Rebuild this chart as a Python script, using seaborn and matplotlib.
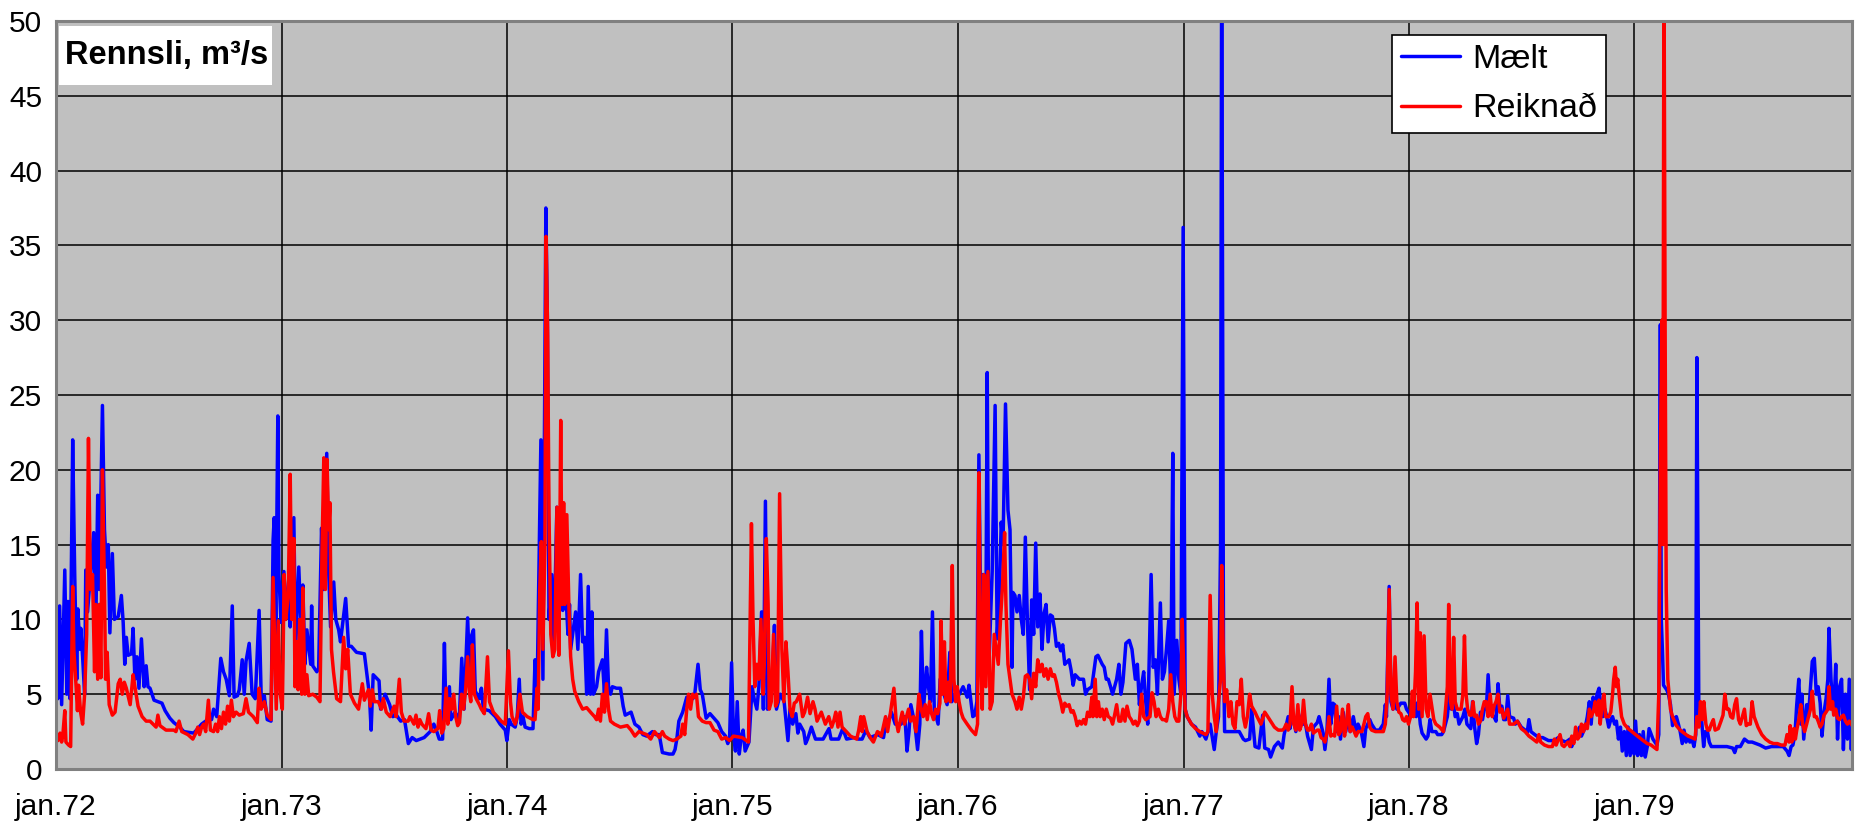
import numpy as np
import pandas as pd
import matplotlib
matplotlib.use("Agg")
import matplotlib.pyplot as plt
import matplotlib.dates as mdates
from matplotlib.patches import Rectangle
from matplotlib.ticker import MultipleLocator, FuncFormatter
import seaborn as sns

# rennsli lesið af mynd: (ár frá jan.72, m3/s)
maelt_1972 = [(0.000, 9.9), (0.008, 4.7), (0.016, 10.9), (0.025, 4.3), (0.039, 13.3), (0.048, 5.0), (0.053, 11.2),
              (0.062, 4.7), (0.074, 22.0), (0.083, 13.0), (0.092, 6.0), (0.097, 10.7), (0.106, 8.0), (0.110, 9.4),
              (0.118, 7.5), (0.127, 5.0), (0.132, 13.3), (0.140, 10.5), (0.167, 15.8), (0.176, 9.0), (0.185, 18.3),
              (0.192, 12.0), (0.206, 24.3), (0.215, 16.0), (0.224, 13.5), (0.232, 15.0), (0.239, 9.1), (0.250, 14.4),
              (0.259, 10.0), (0.276, 10.2), (0.290, 11.6), (0.298, 9.8), (0.305, 7.0), (0.312, 8.8), (0.320, 7.6),
              (0.335, 7.7), (0.342, 9.4), (0.350, 6.0), (0.359, 7.5), (0.368, 5.4), (0.379, 8.7), (0.391, 5.5),
              (0.400, 6.9), (0.408, 5.5), (0.417, 5.4), (0.435, 4.6), (0.470, 4.4), (0.484, 3.9), (0.505, 3.4),
              (0.523, 3.1), (0.549, 2.8), (0.567, 2.5), (0.611, 2.4), (0.629, 2.7), (0.646, 3.0), (0.673, 3.3),
              (0.690, 3.3), (0.699, 4.0), (0.713, 3.5), (0.731, 7.4), (0.743, 6.5), (0.755, 6.0), (0.769, 4.9),
              (0.782, 10.9), (0.790, 4.8), (0.805, 4.9), (0.813, 5.3), (0.826, 7.3), (0.835, 5.0), (0.843, 7.2),
              (0.857, 8.4), (0.870, 5.0), (0.884, 4.7), (0.901, 10.6), (0.910, 5.0), (0.919, 4.2), (0.924, 4.9),
              (0.937, 3.3), (0.954, 3.2), (0.963, 15.3), (0.968, 16.8), (0.975, 9.0), (0.984, 23.6), (0.989, 13.0),
              (0.998, 9.8)]
maelt_1973 = [(1.011, 13.2), (1.019, 10.0), (1.033, 12.8), (1.039, 9.5), (1.055, 16.8), (1.063, 8.0), (1.077, 13.5),
              (1.086, 10.0), (1.095, 12.3), (1.104, 7.0), (1.113, 9.3), (1.130, 7.0), (1.134, 10.9), (1.139, 6.9),
              (1.157, 6.5), (1.165, 6.7), (1.178, 16.1), (1.187, 12.0), (1.201, 21.1), (1.210, 13.0), (1.218, 9.5),
              (1.232, 12.5), (1.241, 10.0), (1.254, 9.3), (1.262, 8.5), (1.285, 11.4), (1.298, 8.2), (1.310, 8.2),
              (1.333, 7.8), (1.368, 7.7), (1.390, 5.0), (1.398, 2.6), (1.407, 6.3), (1.433, 5.9), (1.440, 4.0),
              (1.460, 5.0), (1.480, 4.3), (1.494, 3.5), (1.510, 3.6), (1.529, 3.2), (1.546, 3.3), (1.563, 1.7),
              (1.580, 2.1), (1.598, 1.9), (1.633, 2.1), (1.660, 2.5), (1.676, 3.0), (1.685, 2.7), (1.700, 2.0),
              (1.715, 2.0), (1.723, 8.4), (1.730, 3.5), (1.745, 5.5), (1.752, 3.3), (1.770, 3.8), (1.789, 3.3),
              (1.800, 7.4), (1.810, 4.0), (1.826, 10.1), (1.836, 6.0), (1.843, 8.9), (1.852, 9.3), (1.860, 5.2),
              (1.878, 4.7), (1.887, 5.4), (1.896, 4.0), (1.922, 3.9), (1.949, 3.5), (1.970, 3.0), (1.993, 2.6),
              (2.000, 1.9)]
maelt_1974 = [(2.011, 3.3), (2.019, 3.0), (2.037, 2.8), (2.046, 3.5), (2.055, 6.0), (2.063, 3.0), (2.072, 3.5),
              (2.081, 2.8), (2.099, 2.7), (2.116, 2.7), (2.125, 7.3), (2.134, 5.0), (2.151, 22.0), (2.160, 6.0),
              (2.173, 37.5), (2.180, 29.8), (2.187, 10.0), (2.199, 13.0), (2.208, 8.0), (2.222, 17.5), (2.231, 9.0),
              (2.238, 16.0), (2.248, 10.6), (2.257, 13.2), (2.271, 9.0), (2.278, 11.0), (2.283, 8.0), (2.296, 9.5),
              (2.305, 10.5), (2.315, 8.0), (2.327, 13.0), (2.336, 8.5), (2.345, 8.8), (2.354, 5.0), (2.361, 12.2),
              (2.371, 5.0), (2.377, 10.5), (2.384, 5.0), (2.398, 5.5), (2.407, 6.5), (2.424, 7.3), (2.433, 5.0),
              (2.442, 9.3), (2.451, 5.5), (2.460, 5.0), (2.468, 5.5), (2.486, 5.4), (2.504, 5.4), (2.516, 4.2),
              (2.525, 3.6), (2.551, 3.8), (2.568, 3.0), (2.586, 2.8), (2.603, 2.3), (2.620, 2.2), (2.646, 2.5),
              (2.660, 2.3), (2.676, 2.3), (2.690, 1.1), (2.720, 1.0), (2.737, 1.0), (2.746, 1.3), (2.754, 2.0),
              (2.763, 3.2), (2.780, 3.8), (2.798, 4.8), (2.815, 4.6), (2.832, 4.8), (2.848, 7.0), (2.858, 5.3),
              (2.867, 5.0), (2.884, 3.4), (2.901, 3.7), (2.936, 3.1), (2.953, 2.5), (2.970, 2.2), (2.980, 1.7),
              (2.988, 2.0), (2.997, 7.1)]
maelt_1975 = [(3.005, 2.5), (3.014, 1.2), (3.022, 4.5), (3.031, 1.0), (3.040, 2.2), (3.048, 2.6), (3.057, 1.2),
              (3.074, 1.8), (3.088, 5.5), (3.097, 4.7), (3.109, 4.0), (3.118, 5.5), (3.130, 10.5), (3.138, 4.0),
              (3.147, 17.9), (3.156, 4.0), (3.166, 5.0), (3.178, 6.4), (3.187, 9.6), (3.196, 4.0), (3.213, 5.0),
              (3.230, 4.5), (3.247, 1.9), (3.256, 4.0), (3.268, 3.0), (3.282, 3.7), (3.291, 2.4), (3.299, 3.0),
              (3.317, 2.5), (3.325, 1.7), (3.334, 2.0), (3.351, 2.8), (3.369, 2.0), (3.403, 2.0), (3.429, 2.7),
              (3.438, 2.0), (3.472, 2.0), (3.490, 2.7), (3.507, 2.0), (3.542, 2.1), (3.559, 2.0), (3.576, 2.0),
              (3.593, 2.6), (3.611, 2.1), (3.645, 2.3), (3.671, 2.1), (3.680, 3.0), (3.697, 3.4), (3.706, 3.8),
              (3.723, 3.0), (3.749, 3.0), (3.766, 3.5), (3.775, 1.2), (3.784, 2.5), (3.792, 4.3), (3.810, 3.0),
              (3.822, 1.3), (3.832, 3.0), (3.839, 9.2), (3.848, 4.0), (3.862, 6.8), (3.870, 5.5), (3.879, 4.5),
              (3.888, 10.5), (3.896, 4.0), (3.913, 3.0), (3.922, 6.0), (3.939, 5.0), (3.953, 4.3), (3.965, 7.8),
              (3.974, 4.5), (3.988, 5.0), (3.999, 4.8)]
maelt_1976 = [(4.007, 5.0), (4.024, 5.5), (4.042, 4.8), (4.050, 5.6), (4.059, 4.5), (4.067, 3.5), (4.076, 3.6),
              (4.085, 4.5), (4.094, 21.0), (4.103, 9.0), (4.112, 13.0), (4.124, 7.0), (4.131, 26.5), (4.138, 6.8),
              (4.153, 13.2), (4.166, 24.3), (4.175, 8.7), (4.186, 12.3), (4.193, 16.5), (4.201, 15.0), (4.212, 24.4),
              (4.223, 17.3), (4.232, 16.0), (4.241, 6.8), (4.245, 11.8), (4.254, 11.6), (4.263, 10.5), (4.273, 11.6),
              (4.282, 10.0), (4.291, 9.0), (4.300, 15.5), (4.309, 10.0), (4.319, 5.3), (4.328, 11.3), (4.337, 9.0),
              (4.346, 15.1), (4.355, 9.5), (4.365, 11.7), (4.374, 8.0), (4.383, 10.4), (4.392, 11.0), (4.401, 8.5),
              (4.411, 10.3), (4.420, 10.2), (4.429, 9.4), (4.438, 8.2), (4.448, 8.4), (4.457, 7.9), (4.466, 8.3),
              (4.475, 7.0), (4.494, 7.3), (4.503, 6.6), (4.512, 5.6), (4.521, 6.3), (4.540, 6.0), (4.558, 6.0),
              (4.567, 5.0), (4.576, 5.3), (4.595, 5.5), (4.613, 7.5), (4.622, 7.6), (4.641, 7.0), (4.650, 6.8),
              (4.659, 6.0), (4.668, 6.0), (4.678, 5.5), (4.687, 5.0), (4.705, 6.0), (4.715, 7.0), (4.724, 5.0),
              (4.733, 5.8), (4.746, 8.4), (4.761, 8.6), (4.773, 8.0), (4.779, 7.2), (4.788, 6.0), (4.797, 7.0),
              (4.806, 4.3), (4.816, 5.6), (4.825, 6.5), (4.834, 4.5), (4.843, 3.0), (4.858, 13.0), (4.867, 6.8),
              (4.877, 7.3), (4.886, 5.0), (4.899, 11.1), (4.908, 6.0), (4.917, 6.5), (4.926, 8.0), (4.936, 9.9),
              (4.945, 5.0), (4.954, 21.1), (4.960, 5.0), (4.972, 8.6), (4.981, 6.0), (4.990, 5.0), (5.000, 36.2)]
maelt_1977 = [(5.009, 4.0), (5.018, 3.5), (5.037, 3.0), (5.055, 2.8), (5.074, 2.2), (5.083, 2.5), (5.101, 2.0),
              (5.120, 3.0), (5.138, 1.3), (5.147, 2.5), (5.157, 3.5), (5.166, 15.0), (5.171, 55.0), (5.179, 8.0),
              (5.184, 2.5), (5.221, 2.5), (5.249, 2.5), (5.267, 2.0), (5.276, 1.9), (5.295, 2.0), (5.304, 4.0),
              (5.319, 1.5), (5.336, 1.4), (5.353, 3.6), (5.362, 1.4), (5.379, 1.3), (5.388, 0.8), (5.405, 1.5),
              (5.422, 1.8), (5.440, 1.4), (5.448, 2.3), (5.466, 3.5), (5.474, 2.7), (5.483, 3.8), (5.500, 2.5),
              (5.509, 3.8), (5.526, 3.0), (5.543, 3.0), (5.552, 2.2), (5.569, 1.3), (5.578, 2.8), (5.595, 3.1),
              (5.603, 3.5), (5.621, 2.4), (5.629, 1.3), (5.638, 2.5), (5.647, 6.0), (5.655, 3.0), (5.664, 4.4),
              (5.672, 4.3), (5.681, 2.5), (5.690, 3.5), (5.698, 2.0), (5.710, 3.8), (5.721, 2.5), (5.733, 3.5),
              (5.741, 2.5), (5.755, 3.5), (5.767, 2.5), (5.776, 3.0), (5.790, 2.5), (5.802, 1.5), (5.810, 2.7),
              (5.828, 3.3), (5.836, 3.0), (5.853, 2.6), (5.871, 2.6), (5.888, 3.0), (5.897, 4.3), (5.902, 3.5),
              (5.914, 12.2), (5.922, 4.5), (5.931, 4.0), (5.940, 4.4), (5.948, 4.0), (5.966, 4.4), (5.983, 4.4),
              (5.991, 4.0), (6.000, 3.8)]
maelt_1978 = [(6.009, 3.6), (6.017, 4.0), (6.026, 4.4), (6.034, 3.5), (6.043, 4.5), (6.052, 3.0), (6.060, 2.4),
              (6.078, 2.0), (6.086, 2.2), (6.095, 3.3), (6.103, 2.5), (6.121, 2.5), (6.129, 2.3), (6.147, 2.3),
              (6.155, 2.5), (6.172, 3.5), (6.181, 5.0), (6.190, 4.0), (6.198, 4.5), (6.207, 3.5), (6.216, 3.7),
              (6.224, 3.0), (6.241, 3.5), (6.250, 4.0), (6.259, 3.0), (6.276, 2.7), (6.284, 4.5), (6.293, 2.8),
              (6.302, 1.7), (6.310, 2.3), (6.319, 3.8), (6.328, 3.3), (6.336, 4.0), (6.345, 4.0), (6.353, 6.3),
              (6.362, 4.0), (6.371, 3.6), (6.379, 3.5), (6.388, 3.2), (6.397, 5.7), (6.405, 4.0), (6.414, 4.2),
              (6.422, 3.3), (6.431, 3.3), (6.440, 4.9), (6.448, 3.5), (6.466, 3.4), (6.474, 3.0), (6.483, 3.2),
              (6.500, 2.8), (6.517, 2.6), (6.526, 2.4), (6.534, 3.3), (6.543, 2.5), (6.560, 2.3), (6.578, 2.1),
              (6.595, 2.1), (6.621, 1.9), (6.647, 1.9), (6.664, 2.1), (6.681, 1.9), (6.698, 1.8), (6.716, 2.0),
              (6.724, 1.5), (6.733, 1.9), (6.741, 2.2), (6.759, 2.8), (6.767, 2.2), (6.784, 2.8), (6.793, 3.5),
              (6.802, 4.5), (6.810, 3.0), (6.819, 4.8), (6.828, 4.0), (6.836, 5.0), (6.845, 5.4), (6.853, 4.2),
              (6.862, 3.5), (6.871, 4.0), (6.879, 3.5), (6.888, 2.8), (6.897, 3.3), (6.905, 3.5), (6.914, 3.0),
              (6.922, 3.2), (6.931, 2.0), (6.940, 2.8), (6.948, 1.2), (6.957, 2.5), (6.966, 0.9), (6.974, 2.8),
              (6.983, 0.9), (6.991, 2.5), (7.000, 1.0)]
maelt_1979 = [(7.007, 3.2), (7.016, 0.9), (7.024, 2.3), (7.033, 0.9), (7.041, 2.5), (7.050, 0.8), (7.059, 1.5),
              (7.067, 2.7), (7.084, 2.0), (7.102, 1.6), (7.110, 2.3), (7.117, 29.7), (7.121, 10.0), (7.126, 8.0),
              (7.131, 5.6), (7.145, 5.3), (7.153, 5.0), (7.162, 4.3), (7.171, 2.9), (7.179, 3.4), (7.188, 3.5),
              (7.197, 3.0), (7.205, 2.5), (7.214, 1.7), (7.222, 2.6), (7.231, 1.8), (7.240, 2.2), (7.248, 1.8),
              (7.257, 2.0), (7.266, 1.5), (7.274, 2.3), (7.279, 27.5), (7.288, 3.0), (7.300, 3.3), (7.309, 1.5),
              (7.317, 2.5), (7.326, 2.5), (7.334, 1.8), (7.343, 1.5), (7.378, 1.5), (7.412, 1.5), (7.438, 1.4),
              (7.447, 1.1), (7.455, 1.5), (7.472, 1.5), (7.490, 2.0), (7.507, 1.8), (7.524, 1.8), (7.541, 1.7),
              (7.559, 1.6), (7.584, 1.4), (7.610, 1.5), (7.636, 1.5), (7.662, 1.5), (7.679, 1.2), (7.688, 0.9),
              (7.697, 1.5), (7.705, 1.6), (7.714, 2.3), (7.722, 4.3), (7.731, 6.0), (7.740, 3.0), (7.745, 5.0),
              (7.753, 2.0), (7.766, 4.3), (7.774, 3.5), (7.783, 5.5), (7.791, 7.2), (7.800, 7.4), (7.809, 5.0),
              (7.817, 5.5), (7.826, 4.4), (7.834, 2.2), (7.843, 3.8), (7.852, 4.7), (7.860, 6.0), (7.865, 9.4),
              (7.874, 6.0), (7.878, 5.0), (7.886, 3.8), (7.895, 7.0), (7.903, 2.0), (7.912, 5.5), (7.921, 6.0),
              (7.929, 1.3), (7.938, 5.0), (7.947, 2.0), (7.955, 6.0), (7.964, 1.3), (7.972, 4.5), (7.981, 1.2)]

reikn_1972 = [(0.000, 2.4), (0.009, 1.9), (0.018, 2.4), (0.025, 1.8), (0.030, 2.2), (0.039, 3.9), (0.044, 1.8),
              (0.056, 1.6), (0.065, 1.5), (0.074, 12.2), (0.079, 8.0), (0.088, 5.8), (0.095, 3.9), (0.100, 5.6),
              (0.109, 3.8), (0.118, 3.0), (0.127, 5.0), (0.136, 9.0), (0.144, 22.1), (0.153, 12.0), (0.162, 13.0),
              (0.171, 6.5), (0.176, 11.0), (0.185, 6.0), (0.192, 11.0), (0.199, 6.1), (0.206, 20.0), (0.215, 12.0),
              (0.220, 6.0), (0.227, 7.8), (0.236, 4.3), (0.250, 3.6), (0.262, 3.8), (0.276, 5.7), (0.285, 6.0),
              (0.294, 5.0), (0.303, 5.8), (0.312, 5.4), (0.329, 4.3), (0.342, 6.3), (0.350, 5.5), (0.364, 4.2),
              (0.382, 3.5), (0.400, 3.2), (0.417, 3.2), (0.444, 2.8), (0.452, 3.6), (0.461, 2.9), (0.488, 2.6),
              (0.523, 2.6), (0.532, 2.5), (0.546, 3.2), (0.558, 2.5), (0.585, 2.3), (0.607, 2.0), (0.620, 2.4),
              (0.629, 2.8), (0.637, 2.3), (0.646, 2.8), (0.655, 3.0), (0.664, 2.5), (0.676, 4.6), (0.685, 2.6),
              (0.699, 2.5), (0.708, 3.0), (0.717, 2.5), (0.725, 3.5), (0.734, 2.7), (0.743, 3.8), (0.752, 3.0),
              (0.761, 4.2), (0.769, 3.2), (0.778, 4.6), (0.787, 3.5), (0.799, 3.8), (0.813, 3.6), (0.831, 3.7),
              (0.843, 4.7), (0.854, 3.8), (0.875, 3.5), (0.893, 3.1), (0.901, 5.4), (0.910, 4.0), (0.924, 4.5),
              (0.937, 3.6), (0.954, 3.3), (0.963, 12.8), (0.972, 7.0), (0.977, 4.0), (0.986, 9.9), (0.995, 5.0)]
reikn_1973 = [(1.004, 4.0), (1.007, 7.0), (1.012, 13.0), (1.019, 10.0), (1.030, 11.5), (1.039, 19.7), (1.046, 10.0),
              (1.055, 15.4), (1.060, 5.5), (1.067, 8.5), (1.074, 5.3), (1.081, 10.0), (1.090, 5.0), (1.095, 12.1),
              (1.104, 5.0), (1.113, 6.3), (1.121, 4.9), (1.139, 5.0), (1.157, 4.8), (1.171, 4.5), (1.180, 14.5),
              (1.188, 20.8), (1.195, 12.0), (1.202, 20.7), (1.210, 16.0), (1.215, 17.8), (1.222, 8.0), (1.231, 6.5),
              (1.245, 4.7), (1.262, 4.5), (1.276, 8.8), (1.285, 6.7), (1.294, 8.0), (1.306, 5.0), (1.324, 4.4),
              (1.342, 4.0), (1.359, 5.7), (1.368, 4.6), (1.386, 5.3), (1.394, 4.2), (1.403, 5.3), (1.412, 4.5),
              (1.430, 4.5), (1.444, 4.0), (1.452, 4.7), (1.465, 3.8), (1.482, 3.5), (1.500, 4.2), (1.509, 3.5),
              (1.523, 6.0), (1.532, 3.8), (1.544, 3.2), (1.562, 3.2), (1.570, 3.5), (1.588, 3.0), (1.597, 3.6),
              (1.606, 2.8), (1.614, 3.3), (1.623, 3.0), (1.641, 2.7), (1.653, 3.7), (1.664, 2.6), (1.676, 2.5),
              (1.694, 2.7), (1.702, 3.9), (1.711, 2.4), (1.720, 2.7), (1.731, 5.4), (1.738, 3.0), (1.746, 4.7),
              (1.755, 4.0), (1.764, 5.0), (1.773, 3.5), (1.782, 2.9), (1.790, 3.1), (1.799, 5.0), (1.808, 4.0),
              (1.817, 5.3), (1.826, 7.5), (1.835, 5.0), (1.840, 4.5), (1.847, 8.3), (1.856, 5.0), (1.864, 4.7),
              (1.878, 4.3), (1.887, 4.0), (1.900, 3.7), (1.914, 7.5), (1.923, 4.5), (1.940, 3.8), (1.958, 3.5),
              (1.975, 3.2), (1.993, 3.0)]
reikn_1974 = [(2.007, 7.9), (2.016, 4.5), (2.023, 3.5), (2.037, 3.0), (2.046, 3.5), (2.058, 5.0), (2.069, 3.8),
              (2.090, 3.5), (2.116, 3.3), (2.125, 3.3), (2.134, 5.4), (2.139, 4.0), (2.146, 12.0), (2.153, 15.2),
              (2.160, 8.0), (2.169, 15.0), (2.174, 35.6), (2.181, 29.0), (2.187, 17.0), (2.195, 9.0), (2.204, 7.5),
              (2.213, 8.0), (2.222, 17.5), (2.231, 7.6), (2.239, 23.3), (2.245, 11.0), (2.252, 17.8), (2.257, 11.0),
              (2.266, 17.0), (2.275, 11.0), (2.283, 7.5), (2.292, 6.0), (2.301, 5.2), (2.319, 4.5), (2.336, 4.0),
              (2.354, 4.1), (2.371, 3.8), (2.389, 3.5), (2.398, 3.3), (2.407, 4.0), (2.415, 3.2), (2.424, 5.0),
              (2.433, 3.8), (2.442, 5.7), (2.451, 4.0), (2.460, 3.2), (2.477, 3.0), (2.504, 2.8), (2.534, 2.9),
              (2.551, 2.6), (2.568, 2.2), (2.586, 2.5), (2.603, 2.4), (2.620, 2.3), (2.638, 2.0), (2.655, 2.5),
              (2.666, 2.3), (2.676, 2.1), (2.690, 2.5), (2.700, 2.2), (2.720, 2.0), (2.737, 1.9), (2.754, 2.0),
              (2.772, 2.2), (2.780, 3.0), (2.789, 2.3), (2.798, 4.0), (2.806, 5.0), (2.815, 4.0), (2.824, 5.0),
              (2.832, 4.8), (2.841, 5.0), (2.850, 3.5), (2.867, 3.2), (2.884, 3.1), (2.901, 3.1), (2.919, 2.6),
              (2.936, 2.5), (2.953, 2.0), (2.971, 2.1), (2.988, 1.9)]
reikn_1975 = [(3.005, 2.2), (3.044, 2.1), (3.072, 1.8), (3.085, 16.4), (3.092, 10.0), (3.100, 5.5), (3.109, 7.0),
              (3.118, 6.0), (3.127, 10.0), (3.137, 5.0), (3.142, 7.0), (3.151, 15.4), (3.159, 11.0), (3.164, 4.0),
              (3.173, 4.5), (3.183, 9.0), (3.192, 4.2), (3.201, 4.5), (3.210, 18.4), (3.220, 8.0), (3.229, 4.5),
              (3.238, 8.5), (3.247, 6.5), (3.256, 4.0), (3.266, 3.5), (3.275, 4.4), (3.284, 4.5), (3.299, 5.0),
              (3.312, 3.5), (3.321, 3.8), (3.334, 4.8), (3.345, 3.7), (3.358, 4.5), (3.367, 4.0), (3.376, 3.2),
              (3.395, 3.8), (3.413, 3.0), (3.428, 3.5), (3.441, 2.8), (3.450, 3.2), (3.459, 3.8), (3.469, 2.8),
              (3.478, 3.8), (3.487, 2.8), (3.506, 2.5), (3.524, 2.2), (3.552, 2.0), (3.561, 2.6), (3.570, 3.5),
              (3.576, 2.5), (3.583, 3.5), (3.598, 2.5), (3.616, 2.0), (3.626, 1.8), (3.644, 2.5), (3.653, 2.4),
              (3.661, 2.2), (3.680, 3.5), (3.689, 2.5), (3.702, 3.8), (3.717, 5.4), (3.727, 3.2), (3.736, 2.5),
              (3.745, 3.2), (3.754, 3.8), (3.764, 3.0), (3.773, 3.5), (3.782, 4.0), (3.791, 3.2), (3.804, 3.5),
              (3.815, 2.5), (3.828, 5.0), (3.838, 4.0), (3.847, 3.5), (3.856, 4.3), (3.865, 3.3), (3.875, 4.5),
              (3.884, 3.7), (3.893, 3.3), (3.902, 4.0), (3.911, 3.7), (3.921, 4.4), (3.926, 9.9), (3.934, 5.0),
              (3.941, 8.5), (3.948, 4.5), (3.958, 5.8), (3.967, 4.5), (3.976, 13.6), (3.983, 6.0), (3.991, 4.5),
              (3.998, 5.5)]
reikn_1976 = [(4.006, 4.5), (4.015, 3.8), (4.024, 3.4), (4.042, 3.0), (4.061, 2.6), (4.079, 2.3), (4.088, 3.0),
              (4.094, 19.8), (4.101, 8.0), (4.109, 4.0), (4.116, 13.0), (4.125, 5.5), (4.134, 13.2), (4.144, 4.0),
              (4.153, 4.5), (4.162, 9.0), (4.171, 8.0), (4.180, 7.0), (4.190, 10.0), (4.199, 12.3), (4.208, 15.8),
              (4.214, 11.0), (4.223, 7.0), (4.232, 6.0), (4.241, 5.0), (4.254, 4.5), (4.263, 4.0), (4.273, 4.8),
              (4.282, 4.0), (4.291, 4.8), (4.300, 6.2), (4.309, 6.3), (4.319, 6.0), (4.328, 4.7), (4.337, 6.4),
              (4.346, 5.5), (4.355, 7.3), (4.365, 6.5), (4.374, 7.0), (4.383, 6.2), (4.392, 6.7), (4.401, 6.0),
              (4.411, 6.7), (4.420, 6.2), (4.429, 6.3), (4.438, 5.8), (4.448, 5.0), (4.457, 4.5), (4.466, 3.8),
              (4.475, 4.4), (4.484, 4.2), (4.494, 4.3), (4.503, 3.8), (4.512, 3.9), (4.521, 3.5), (4.530, 2.9),
              (4.540, 3.2), (4.549, 3.0), (4.558, 3.3), (4.567, 3.0), (4.576, 3.8), (4.586, 3.5), (4.595, 4.8),
              (4.600, 3.5), (4.610, 6.0), (4.617, 3.5), (4.624, 4.5), (4.632, 3.5), (4.641, 4.0), (4.650, 3.3),
              (4.659, 4.0), (4.668, 3.5), (4.678, 3.4), (4.687, 3.0), (4.696, 3.6), (4.705, 4.3), (4.715, 3.2),
              (4.724, 3.2), (4.733, 4.0), (4.742, 3.2), (4.751, 4.2), (4.761, 3.5), (4.770, 3.3), (4.779, 3.0),
              (4.788, 3.2), (4.797, 2.9), (4.806, 3.2), (4.816, 5.0), (4.825, 3.5), (4.834, 3.3), (4.853, 3.5),
              (4.862, 5.1), (4.871, 4.5), (4.880, 3.5), (4.890, 4.0), (4.899, 3.5), (4.908, 3.3), (4.917, 3.3),
              (4.926, 3.2), (4.936, 4.0), (4.945, 6.3), (4.954, 4.5), (4.963, 3.5), (4.972, 3.2), (4.981, 3.2),
              (4.990, 5.0), (4.996, 10.0)]
reikn_1977 = [(5.004, 6.0), (5.009, 4.0), (5.018, 3.5), (5.037, 3.0), (5.055, 2.7), (5.074, 2.5), (5.101, 2.3),
              (5.110, 2.5), (5.120, 11.6), (5.129, 5.0), (5.138, 3.5), (5.147, 2.5), (5.157, 4.5), (5.166, 6.0),
              (5.171, 13.6), (5.179, 7.0), (5.184, 4.5), (5.193, 5.3), (5.203, 3.5), (5.212, 4.5), (5.221, 3.0),
              (5.230, 2.7), (5.239, 4.5), (5.249, 4.3), (5.258, 6.0), (5.267, 3.5), (5.276, 2.8), (5.285, 3.5),
              (5.295, 5.0), (5.304, 4.2), (5.319, 3.8), (5.328, 3.5), (5.345, 3.0), (5.362, 3.8), (5.371, 3.6),
              (5.388, 3.2), (5.405, 2.8), (5.422, 2.6), (5.440, 2.6), (5.448, 2.7), (5.457, 3.0), (5.466, 2.6),
              (5.474, 3.0), (5.483, 5.5), (5.491, 3.0), (5.500, 2.6), (5.509, 4.3), (5.517, 2.6), (5.526, 3.0),
              (5.534, 4.6), (5.543, 3.0), (5.552, 2.6), (5.560, 2.6), (5.569, 3.0), (5.578, 2.4), (5.595, 2.6),
              (5.603, 2.6), (5.612, 2.1), (5.621, 2.0), (5.629, 1.8), (5.638, 2.4), (5.647, 3.5), (5.655, 2.2),
              (5.664, 2.3), (5.672, 2.2), (5.681, 4.2), (5.690, 2.3), (5.698, 2.5), (5.707, 4.0), (5.716, 2.2),
              (5.724, 3.0), (5.733, 4.3), (5.741, 2.5), (5.750, 2.8), (5.759, 2.5), (5.767, 2.2), (5.776, 2.5),
              (5.793, 2.5), (5.802, 3.0), (5.810, 3.5), (5.819, 3.7), (5.828, 2.8), (5.836, 2.6), (5.853, 2.5),
              (5.871, 2.5), (5.888, 2.5), (5.897, 3.0), (5.905, 5.0), (5.914, 12.0), (5.922, 5.0), (5.931, 4.0),
              (5.940, 7.5), (5.948, 4.5), (5.957, 3.8), (5.966, 3.7), (5.974, 3.3), (5.983, 3.2), (5.991, 3.5),
              (6.000, 3.0)]
reikn_1978 = [(6.009, 3.5), (6.017, 5.2), (6.022, 3.5), (6.031, 6.5), (6.038, 11.1), (6.045, 4.0), (6.052, 9.1),
              (6.060, 3.5), (6.069, 8.9), (6.078, 4.0), (6.086, 3.5), (6.095, 5.0), (6.103, 4.2), (6.112, 3.3),
              (6.121, 3.0), (6.138, 2.8), (6.155, 2.5), (6.164, 4.0), (6.172, 5.5), (6.178, 11.0), (6.186, 4.5),
              (6.193, 4.0), (6.200, 8.8), (6.207, 4.5), (6.216, 4.0), (6.224, 4.0), (6.233, 4.0), (6.241, 5.0),
              (6.248, 8.9), (6.255, 5.0), (6.262, 4.0), (6.271, 3.6), (6.279, 3.6), (6.286, 4.5), (6.293, 3.5),
              (6.302, 3.6), (6.310, 3.0), (6.319, 3.2), (6.328, 4.0), (6.336, 4.5), (6.345, 4.5), (6.353, 3.5),
              (6.362, 5.0), (6.371, 3.5), (6.379, 4.2), (6.388, 4.5), (6.397, 5.0), (6.405, 3.8), (6.414, 4.0),
              (6.422, 3.4), (6.431, 3.7), (6.440, 4.0), (6.448, 3.0), (6.466, 3.0), (6.483, 3.2), (6.500, 2.7),
              (6.517, 2.5), (6.534, 2.2), (6.552, 2.0), (6.569, 1.8), (6.578, 2.3), (6.586, 1.8), (6.603, 1.6),
              (6.621, 1.5), (6.638, 1.5), (6.647, 2.0), (6.655, 1.6), (6.672, 2.3), (6.681, 1.6), (6.690, 1.5),
              (6.707, 1.8), (6.716, 1.5), (6.724, 2.2), (6.733, 1.7), (6.741, 2.8), (6.750, 2.0), (6.759, 2.2),
              (6.767, 3.0), (6.776, 2.5), (6.784, 3.0), (6.793, 2.7), (6.802, 4.0), (6.810, 3.5), (6.819, 3.8),
              (6.828, 4.5), (6.836, 3.6), (6.845, 4.6), (6.850, 3.0), (6.859, 4.4), (6.867, 5.0), (6.874, 3.5),
              (6.888, 3.5), (6.897, 3.8), (6.905, 5.0), (6.910, 6.0), (6.917, 6.8), (6.922, 5.5), (6.928, 6.0),
              (6.934, 5.0), (6.945, 3.5), (6.957, 3.0), (6.974, 2.7), (6.991, 2.5)]
reikn_1979 = [(7.007, 2.3), (7.024, 2.1), (7.041, 1.9), (7.059, 1.7), (7.076, 1.6), (7.093, 1.4), (7.102, 1.3),
              (7.110, 5.0), (7.117, 20.4), (7.124, 30.0), (7.128, 15.0), (7.133, 55.0), (7.138, 30.0), (7.143, 12.0),
              (7.150, 6.0), (7.153, 5.5), (7.162, 4.0), (7.171, 3.5), (7.188, 2.9), (7.205, 2.6), (7.222, 2.4),
              (7.240, 2.2), (7.257, 2.1), (7.271, 2.0), (7.279, 3.5), (7.288, 2.8), (7.295, 4.5), (7.303, 3.3),
              (7.310, 4.5), (7.319, 3.0), (7.326, 2.6), (7.334, 2.6), (7.343, 3.0), (7.352, 3.3), (7.360, 2.6),
              (7.374, 2.7), (7.386, 3.2), (7.395, 3.6), (7.403, 5.0), (7.412, 4.0), (7.421, 4.0), (7.429, 3.5),
              (7.438, 3.4), (7.447, 4.3), (7.455, 4.7), (7.464, 3.3), (7.472, 3.0), (7.481, 3.5), (7.490, 4.0),
              (7.498, 2.9), (7.507, 3.0), (7.516, 3.0), (7.524, 4.5), (7.533, 3.5), (7.550, 2.8), (7.567, 2.3),
              (7.584, 2.0), (7.602, 1.8), (7.619, 1.7), (7.636, 1.7), (7.653, 1.6), (7.670, 1.6), (7.679, 2.3),
              (7.688, 1.8), (7.693, 2.9), (7.700, 1.8), (7.709, 2.7), (7.716, 2.0), (7.722, 2.6), (7.731, 3.3),
              (7.740, 4.3), (7.748, 3.0), (7.757, 2.5), (7.766, 3.0), (7.774, 3.5), (7.783, 4.0), (7.791, 5.2),
              (7.800, 3.5), (7.809, 3.5), (7.817, 3.2), (7.826, 2.8), (7.834, 3.0), (7.843, 3.6), (7.852, 3.8),
              (7.860, 4.0), (7.865, 5.5), (7.872, 4.0), (7.881, 4.5), (7.886, 3.6), (7.895, 4.0), (7.903, 3.4),
              (7.912, 3.3), (7.921, 3.5), (7.929, 3.6), (7.938, 3.2), (7.947, 3.0), (7.955, 3.2), (7.964, 3.0),
              (7.972, 2.8), (7.981, 2.6)]

maelt = maelt_1972 + maelt_1973 + maelt_1974 + maelt_1975 + maelt_1976 + maelt_1977 + maelt_1978 + maelt_1979
reikn = reikn_1972 + reikn_1973 + reikn_1974 + reikn_1975 + reikn_1976 + reikn_1977 + reikn_1978 + reikn_1979

start = pd.Timestamp("1972-01-01")


def to_frame(pairs, name):
    df = pd.DataFrame(pairs, columns=["ar", "rennsli"])
    df["dags"] = start + pd.to_timedelta(df["ar"] * 365.25, unit="D")
    df["rod"] = name
    return df


d_maelt = to_frame(maelt, "Mælt")
d_reikn = to_frame(reikn, "Reiknað")

sns.set_style("white")
plt.rcParams["font.family"] = ["Liberation Sans", "DejaVu Sans"]
plt.rcParams["text.color"] = "black"
plt.rcParams["xtick.color"] = "black"
plt.rcParams["ytick.color"] = "black"
plt.rcParams["axes.labelcolor"] = "black"

fig = plt.figure(figsize=(18.58, 8.23), dpi=100)
ax = fig.add_axes([56 / 1858, 54 / 823, 1796 / 1858, 748 / 823])
ax.set_facecolor("#C0C0C0")

sns.lineplot(data=d_maelt, x="dags", y="rennsli", color="#0000FF", lw=2.5, label="Mælt",
             estimator=None, sort=False, ax=ax)
sns.lineplot(data=d_reikn, x="dags", y="rennsli", color="#FF0000", lw=2.5, label="Reiknað",
             estimator=None, sort=False, ax=ax)

ax.set_ylim(0, 50)
ax.set_xlim(pd.Timestamp("1972-01-01"), pd.Timestamp("1979-12-20"))
ax.yaxis.set_major_locator(MultipleLocator(5))
ax.yaxis.set_minor_locator(MultipleLocator(1))
ax.xaxis.set_major_locator(mdates.YearLocator())
ax.xaxis.set_minor_locator(mdates.MonthLocator())
ax.xaxis.set_major_formatter(FuncFormatter(lambda v, p: "jan." + mdates.num2date(v).strftime("%y")))

ax.set_axisbelow(True)
ax.grid(True, which="major", color="black", lw=1.1)
ax.set_xlabel("")
ax.set_ylabel("")

for s in ax.spines.values():
    s.set_color("#808080")
    s.set_linewidth(2.2)

ax.tick_params(axis="both", which="major", direction="out", length=8, width=1.2, color="black",
               labelcolor="black", labelsize=21.5)
ax.tick_params(axis="both", which="minor", direction="out", length=5, width=1.2, color="black")
ax.tick_params(axis="x", which="major", pad=9)
ax.tick_params(axis="y", which="major", pad=2)

# titilkassi
ax.add_patch(Rectangle((0.0017, 0.9144), 0.1186, 0.0789, transform=ax.transAxes,
                       facecolor="white", edgecolor="none", zorder=5))
ax.text(0.0050, 0.954, "Rennsli, m³/s", transform=ax.transAxes, ha="left", va="center",
        fontsize=23.5, fontweight="bold", color="black", zorder=6)

leg = ax.legend(loc="upper left", bbox_to_anchor=(0.744, 0.981), borderaxespad=0, fontsize=24.5,
                frameon=True, fancybox=False, framealpha=1, edgecolor="black", borderpad=0.25,
                handlelength=1.75, handletextpad=0.35, labelspacing=0.55)
leg.get_frame().set_linewidth(1.2)
for t in leg.get_texts():
    t.set_color("black")

fig.savefig("out.png", dpi=100)
